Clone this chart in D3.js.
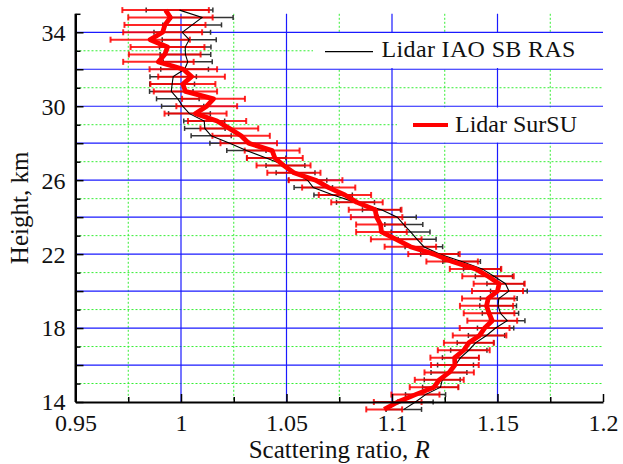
<!DOCTYPE html>
<html>
<head>
<meta charset="utf-8">
<script src="https://cdn.jsdelivr.net/npm/d3@7"></script>
<style>
  html, body { margin: 0; padding: 0; background: #fff; }
  svg text { font-family: "Liberation Serif", "Times New Roman", serif; fill: #111; }
</style>
</head>
<body>
<div id="root"></div>
<script>
// heights of the sounding levels, km
const heights = [35.2, 34.8, 34.4, 34.0, 33.6, 33.2, 32.8, 32.4, 32.0, 31.6,
  31.2, 30.8, 30.4, 30.0, 29.6, 29.2, 28.8, 28.4, 28.0, 27.6,
  27.2, 26.8, 26.4, 26.0, 25.6, 25.2, 24.8, 24.4, 24.0, 23.6,
  23.2, 22.8, 22.4, 22.0, 21.6, 21.2, 20.8, 20.4, 20.0, 19.6,
  19.2, 18.8, 18.4, 18.0, 17.6, 17.2, 16.8, 16.4, 16.0, 15.6,
  15.2, 14.8, 14.4, 14.0, 13.6];

// Lidar SurSU (red)
const surSU = [0.9927, 0.9950, 0.9924, 0.9913, 0.9854, 0.9936, 0.9923, 0.9893, 1.0011, 1.0050,
  1.0009, 1.0021, 1.0154, 1.0122, 1.0069, 1.0171, 1.0229, 1.0285, 1.0321, 1.0432,
  1.0445, 1.0486, 1.0535, 1.0638, 1.0700, 1.0777, 1.0834, 1.0920, 1.0927, 1.0946,
  1.0950, 1.1020, 1.1087, 1.1199, 1.1285, 1.1396, 1.1455, 1.1508, 1.1500, 1.1456,
  1.1448, 1.1460, 1.1475, 1.1439, 1.1415, 1.1364, 1.1340, 1.1297, 1.1298, 1.1271,
  1.1224, 1.1199, 1.1111, 1.1027, 1.0963];
const surSUErr = [0.0205, 0.0200, 0.0192, 0.0187, 0.0188, 0.0175, 0.0170, 0.0167, 0.0160, 0.0158,
  0.0154, 0.0150, 0.0149, 0.0144, 0.0147, 0.0138, 0.0137, 0.0136, 0.0134, 0.0130,
  0.0132, 0.0128, 0.0126, 0.0127, 0.0126, 0.0124, 0.0122, 0.0125, 0.0122, 0.0116,
  0.0120, 0.0120, 0.0122, 0.0122, 0.0122, 0.0122, 0.0122, 0.0121, 0.0121, 0.0124,
  0.0126, 0.0120, 0.0118, 0.0118, 0.0127, 0.0118, 0.0123, 0.0115, 0.0113, 0.0117,
  0.0116, 0.0115, 0.0114, 0.0113, 0.0085];

// Lidar IAO SB RAS (black)
const iao = [0.9993, 1.0100, 1.0053, 1.0006, 1.0039, 1.0020, 1.0021, 1.0032, 1.0017, 0.9963,
  0.9958, 0.9954, 0.9985, 1.0008, 1.0040, 1.0110, 1.0113, 1.0143, 1.0231, 1.0310,
  1.0404, 1.0495, 1.0543, 1.0600, 1.0627, 1.0721, 1.0827, 1.0950, 1.1025, 1.1056,
  1.1088, 1.1119, 1.1151, 1.1225, 1.1330, 1.1427, 1.1483, 1.1538, 1.1554, 1.1506,
  1.1503, 1.1514, 1.1546, 1.1491, 1.1448, 1.1396, 1.1364, 1.1325, 1.1301, 1.1270,
  1.1238, 1.1230, 1.1159, 1.1111, 1.1056];
const iaoErr = [0.0158, 0.0147, 0.0139, 0.0134, 0.0128, 0.0122, 0.0120, 0.0116, 0.0113, 0.0110,
  0.0106, 0.0103, 0.0101, 0.0100, 0.0099, 0.0097, 0.0096, 0.0095, 0.0094, 0.0093,
  0.0093, 0.0092, 0.0092, 0.0091, 0.0091, 0.0091, 0.0090, 0.0090, 0.0090, 0.0090,
  0.0092, 0.0090, 0.0089, 0.0089, 0.0089, 0.0088, 0.0088, 0.0088, 0.0087, 0.0087,
  0.0087, 0.0086, 0.0084, 0.0086, 0.0086, 0.0087, 0.0086, 0.0086, 0.0085, 0.0085,
  0.0085, 0.0085, 0.0095, 0.0084, 0.0084];

const xTicks = [0.95, 1, 1.05, 1.1, 1.15, 1.2];
const yTicks = [14, 18, 22, 26, 30, 34];
const legendLabels = ["Lidar IAO SB RAS", "Lidar SurSU"];

const CONFIG = {
  width: 623,
  height: 464,
  plot: { left: 75.5, right: 603, top: 13.8, bottom: 402 },
  font: 24,
  titleFont: 25,
  colors: {
    iao: "#000",
    iaoBar: "#333",
    surSU: "#ff0000",
    major: "#1a1aff",
    minor: "#33ee33",
    axis: "#000"
  }
};

function drawChart() {
  const { plot } = CONFIG;

  const svg = d3.select("#root")
    .append("svg")
    .attr("width", CONFIG.width)
    .attr("height", CONFIG.height)
    .style("display", "block");

  const x = d3.scaleLinear().domain([0.95, 1.2]).range([plot.left, plot.right]);
  const y = d3.scaleLinear().domain([14, 35]).range([plot.bottom, plot.top]);

  grid(svg, x, y);
  legend(svg);
  series(svg, x, y);
  axes(svg, x, y);
  labels(svg);
}

function grid(svg, x, y) {
  const { plot, colors } = CONFIG;
  const g = svg.append("g").attr("class", "grid");

  // dotted green at the half steps
  g.selectAll("line.vminor")
    .data([0.975, 1.025, 1.075, 1.125, 1.175])
    .enter().append("line")
    .attr("x1", d => x(d)).attr("x2", d => x(d))
    .attr("y1", plot.top).attr("y2", plot.bottom)
    .attr("stroke", colors.minor).attr("stroke-width", 1)
    .attr("stroke-dasharray", "2,2");

  g.selectAll("line.hminor")
    .data(d3.range(15, 35, 2))
    .enter().append("line")
    .attr("x1", plot.left).attr("x2", plot.right)
    .attr("y1", d => y(d)).attr("y2", d => y(d))
    .attr("stroke", colors.minor).attr("stroke-width", 1)
    .attr("stroke-dasharray", "2,2");

  // solid blue at the labelled steps
  g.selectAll("line.vmajor")
    .data([1, 1.05, 1.1, 1.15])
    .enter().append("line")
    .attr("x1", d => x(d)).attr("x2", d => x(d))
    .attr("y1", plot.top).attr("y2", plot.bottom)
    .attr("stroke", colors.major).attr("stroke-width", 1.2);

  g.selectAll("line.hmajor")
    .data(d3.range(16, 35, 2))
    .enter().append("line")
    .attr("x1", plot.left).attr("x2", plot.right)
    .attr("y1", d => y(d)).attr("y2", d => y(d))
    .attr("stroke", colors.major).attr("stroke-width", 1.2);
}

function legend(svg) {
  const { colors, font } = CONFIG;
  const items = [
    { label: legendLabels[0], color: colors.iao, width: 1.3, spacing: 0.35, box: [313, 33, 290, 35], line: [325, 373, 51.7], text: [381.5, 57] },
    { label: legendLabels[1], color: colors.surSU, width: 4, spacing: 0, box: [397, 107.5, 206, 35], line: [413, 448, 125], text: [455, 132] }
  ];

  const g = svg.append("g").attr("id", "legend");
  const item = g.selectAll("g").data(items).enter().append("g");

  item.append("rect")
    .attr("x", d => d.box[0]).attr("y", d => d.box[1])
    .attr("width", d => d.box[2]).attr("height", d => d.box[3])
    .attr("fill", "#fff");

  item.append("line")
    .attr("x1", d => d.line[0]).attr("x2", d => d.line[1])
    .attr("y1", d => d.line[2]).attr("y2", d => d.line[2])
    .attr("stroke", d => d.color)
    .attr("stroke-width", d => d.width);

  item.append("text")
    .attr("x", d => d.text[0]).attr("y", d => d.text[1])
    .attr("font-size", font)
    .attr("letter-spacing", d => d.spacing)
    .text(d => d.label);
}

function errorBars(g, x, y, values, errs, color, width, opacity, cap) {
  const rows = heights.map((h, i) => ({ h, v: values[i], e: errs[i] }));
  const bar = g.selectAll(null).data(rows).enter().append("g")
    .attr("stroke", color)
    .attr("stroke-width", width)
    .attr("stroke-opacity", opacity);

  bar.append("line")
    .attr("x1", d => x(d.v - d.e)).attr("x2", d => x(d.v + d.e))
    .attr("y1", d => y(d.h)).attr("y2", d => y(d.h));

  bar.append("line")
    .attr("x1", d => x(d.v - d.e)).attr("x2", d => x(d.v - d.e))
    .attr("y1", d => y(d.h) - cap).attr("y2", d => y(d.h) + cap);

  bar.append("line")
    .attr("x1", d => x(d.v + d.e)).attr("x2", d => x(d.v + d.e))
    .attr("y1", d => y(d.h) - cap).attr("y2", d => y(d.h) + cap);
}

function series(svg, x, y) {
  const { colors } = CONFIG;
  const g = svg.append("g").attr("class", "series");

  errorBars(g, x, y, iao, iaoErr, colors.iaoBar, 1.5, 1, 2.5);
  errorBars(g, x, y, surSU, surSUErr, colors.surSU, 2, 0.85, 3);

  const line = d3.line().x(d => x(d[0])).y(d => y(d[1]));

  g.append("path")
    .datum(heights.map((h, i) => [iao[i], h]))
    .attr("d", line)
    .attr("fill", "none")
    .attr("stroke", colors.iao)
    .attr("stroke-width", 1.1);

  g.append("path")
    .datum(heights.map((h, i) => [surSU[i], h]))
    .attr("d", line)
    .attr("fill", "none")
    .attr("stroke", colors.surSU)
    .attr("stroke-width", 4.8)
    .attr("stroke-linejoin", "round");
}

function axes(svg, x, y) {
  const { plot, font } = CONFIG;

  // minor ticks first, no labels
  svg.append("g")
    .attr("transform", `translate(${plot.left},0)`)
    .call(d3.axisLeft(y).tickValues(d3.range(15, 36, 2)).tickSize(-5).tickFormat(""))
    .call(g => g.select(".domain").remove());

  svg.append("g")
    .attr("transform", `translate(0,${plot.bottom})`)
    .call(d3.axisBottom(x).tickValues([0.975, 1.025, 1.075, 1.125, 1.175]).tickSize(-5).tickFormat(""))
    .call(g => g.select(".domain").remove());

  const yAxis = svg.append("g")
    .attr("transform", `translate(${plot.left},0)`)
    .call(d3.axisLeft(y).tickValues(d3.range(14, 35, 2)).tickSize(-8).tickSizeOuter(0).tickPadding(10)
      .tickFormat(d => yTicks.includes(d) ? d : ""));

  const xAxis = svg.append("g")
    .attr("transform", `translate(0,${plot.bottom})`)
    .call(d3.axisBottom(x).tickValues(xTicks).tickSize(-8).tickSizeOuter(0).tickPadding(12)
      .tickFormat(d => String(d)));

  [yAxis, xAxis].forEach(a => {
    a.attr("font-family", null).attr("font-size", null);
    a.selectAll("text").attr("font-size", font).attr("fill", "#111");
    a.select(".domain").attr("stroke-width", 2);
  });
  svg.selectAll(".tick line").attr("stroke", "#000").attr("stroke-width", 1.5);
  yAxis.selectAll("text").attr("dy", "0.33em");

  // height axis runs up to 35 km
  svg.append("line")
    .attr("x1", plot.left).attr("x2", plot.left)
    .attr("y1", plot.top).attr("y2", plot.bottom)
    .attr("stroke", "#000").attr("stroke-width", 2);
}

function labels(svg) {
  const { plot, titleFont } = CONFIG;

  const xl = svg.append("text")
    .attr("x", (plot.left + plot.right) / 2)
    .attr("y", 458)
    .attr("text-anchor", "middle")
    .attr("font-size", titleFont);
  xl.append("tspan").text("Scattering ratio, ");
  xl.append("tspan").attr("font-style", "italic").text("R");

  svg.append("text")
    .attr("transform", `translate(28,${(plot.top + plot.bottom) / 2}) rotate(-90)`)
    .attr("text-anchor", "middle")
    .attr("font-size", titleFont)
    .text("Height, km");
}

drawChart();
</script>
</body>
</html>
